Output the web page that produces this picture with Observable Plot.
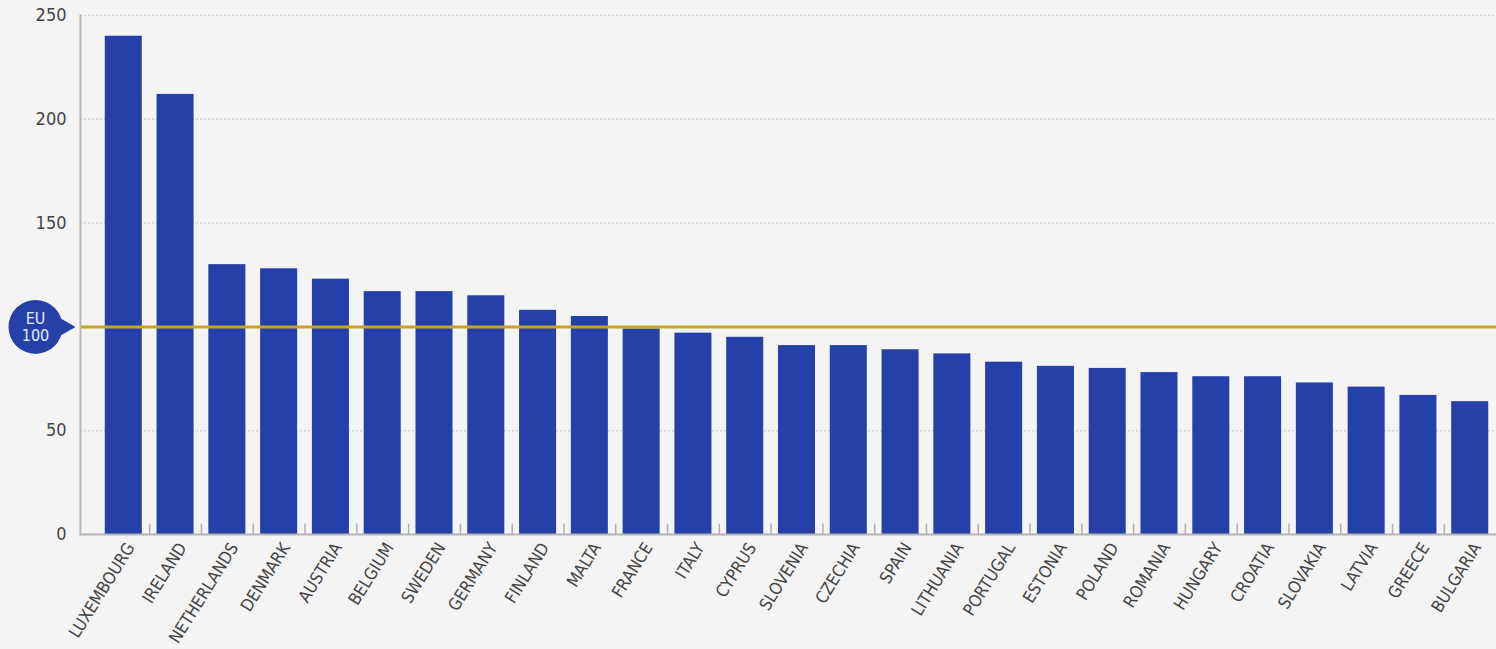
<!DOCTYPE html>
<html><head><meta charset="utf-8">
<script src="https://cdn.jsdelivr.net/npm/d3@7"></script>
<script src="https://cdn.jsdelivr.net/npm/@observablehq/plot@0.6"></script>
<style>
html,body{margin:0;padding:0;background:#f4f4f4;}
svg text{font-stretch:condensed;}
</style></head><body><div id="chart"></div>
<script>
const countries = ["LUXEMBOURG","IRELAND","NETHERLANDS","DENMARK","AUSTRIA","BELGIUM","SWEDEN","GERMANY","FINLAND","MALTA","FRANCE","ITALY","CYPRUS","SLOVENIA","CZECHIA","SPAIN","LITHUANIA","PORTUGAL","ESTONIA","POLAND","ROMANIA","HUNGARY","CROATIA","SLOVAKIA","LATVIA","GREECE","BULGARIA"];
const values = [240,212,130,128,123,117,117,115,108,105,99,97,95,91,91,89,87,83,81,80,78,76,76,73,71,67,64];
const yTicks = [0,50,150,200,250];
const gridTicks = [50,150,200,250];
const euAverage = 100;
const badgeTop = "EU";
const badgeBottom = "100";

const data = countries.map((c,i)=>({country:c, value:values[i]}));

const W = 1496, H = 649;
const mL = 80, mR = 0, inL = 17;
const pIn = 0.285, pOut = 0.15;
const step = (W - mL - mR - inL) / (countries.length - pIn + 2*pOut);
const font = "'DejaVu Sans Condensed','DejaVu Sans',sans-serif";
const blue = "#2541a9";

const chart = Plot.plot({
  width: W, height: H,
  marginLeft: mL, marginRight: mR, marginTop: 15, marginBottom: 115,
  style: {background:"#f4f4f4", fontFamily: font, fontSize:"16px", color:"#444", overflow:"visible"},
  x: {domain: countries, paddingInner: pIn, paddingOuter: pOut, insetLeft: inL, round: false, label: null},
  y: {domain:[0,250], label:null},
  marks: [
    Plot.ruleY(gridTicks, {stroke:"#d2d2d2", strokeDasharray:"2,2", strokeWidth:1.5}),
    Plot.barY(data, {x:"country", y:"value", fill:blue}),
    Plot.ruleY([euAverage], {stroke:"#c9a227", strokeWidth:3}),
    Plot.ruleX(countries.slice(1), {x: d=>d, y1:0, y2:5, dx: -step/2, stroke:"#b0b0b0", strokeWidth:1.5}),
    Plot.axisY(yTicks, {tickSize:0, tickPadding:14, fontSize:18, fill:"#444"}),
    Plot.axisX({tickSize:0, tickPadding:10, tickRotate:-58, fontSize:17, fill:"#444", dx:7}),
    Plot.frame({anchor:"left", stroke:"#b5b5b5", strokeWidth:2}),
    Plot.frame({anchor:"bottom", stroke:"#b5b5b5", strokeWidth:2}),
    Plot.dot([euAverage], {y:d=>d, frameAnchor:"left", dx:-19, symbol:"triangle", rotate:90, r:9, fill:blue}),
    Plot.dot([euAverage], {y:d=>d, frameAnchor:"left", dx:-45, r:27, fill:blue}),
    Plot.text([euAverage], {y:d=>d, frameAnchor:"left", dx:-45, dy:-8, textAnchor:"middle", text:()=>badgeTop, fill:"#e8ecf8", fontSize:16}),
    Plot.text([euAverage], {y:d=>d, frameAnchor:"left", dx:-45, dy:9, textAnchor:"middle", text:()=>badgeBottom, fill:"#e8ecf8", fontSize:16})
  ]
});
document.getElementById("chart").append(chart);
</script></body></html>
